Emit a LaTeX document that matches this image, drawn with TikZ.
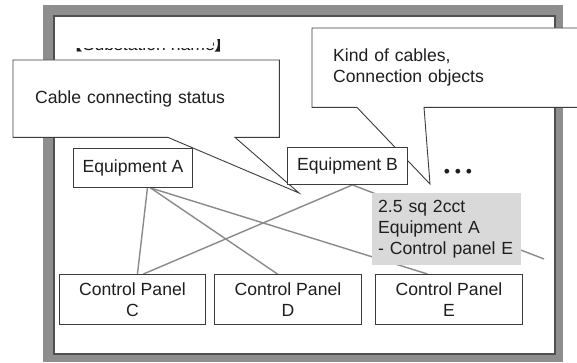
\documentclass[tikz,border=0pt]{standalone}
\usepackage{fontspec}
\setmainfont{Liberation Sans}
\newfontfamily\cjkfont{Noto Sans CJK JP}
\usetikzlibrary{positioning,calc,backgrounds}
\definecolor{cFrame}{HTML}{8E8E8E}
\definecolor{cFrameDk}{HTML}{505050}
\definecolor{cInk}{HTML}{1E1E1E}
\definecolor{cEdge}{HTML}{3C3C3C}
\definecolor{cWire}{HTML}{8A8A8A}
\definecolor{cNote}{HTML}{D9D9D9}
\tikzset{
  base/.style={font=\fontsize{17.6}{21}\selectfont,text=cInk},
  ebox/.style={base,draw=cEdge,fill=white,line width=0.9pt,align=center,inner sep=0pt,anchor=north west},
  note/.style={base,fill=cNote,align=left,inner xsep=6pt,inner ysep=0pt,anchor=north west,minimum width=149pt,minimum height=72pt,text width=137pt},
  ctext/.style={base,anchor=north west,align=left,inner ysep=0pt},
  callout/.style={draw=cEdge,fill=white,line width=0.9pt,line join=miter},
  wire/.style={draw=cWire,line width=1.4pt},
}

\begin{document}
\begin{tikzpicture}[x=1pt,y=-1pt]
  \clip (0,0) rectangle (577,363);
  % frame
  \begin{scope}[on background layer]
    \fill[cFrame] (43,5) rectangle (563,362);
    \filldraw[fill=white,draw=cFrameDk,line width=1.5pt] (54,16) rectangle (555,354);
  \end{scope}
  % title, mostly hidden
  \begin{scope}
    \clip (60,47.8) -- (213,47.8) -- (213,39) -- (240,39) -- (240,58) -- (60,58) -- cycle;
    \node[base,anchor=base west,inner sep=0pt] (title) at (65,50.8) {{\cjkfont 【}Substation name{\cjkfont\bfseries 】}};
  \end{scope}
  % callouts
  \node[ctext,inner xsep=22pt,text width=222pt,minimum height=77pt] (cab) at (13,60) {Cable connecting status};
  \node[ctext,inner xsep=21pt,text width=258pt,minimum height=79pt] (kind) at (312,28) {Kind of cables,\\Connection objects};
  \coordinate (tipCab) at (299,193);
  \coordinate (tipKind) at (430,184);
  % equipment and panels
  \node[ebox,minimum width=119pt,minimum height=39pt] (eqA) at (73,148) {Equipment A};
  \node[ebox,minimum width=120pt,minimum height=37pt] (eqB) at (287,147) {Equipment B};
  \node[base] (more) at (458,173) {• • •};
  \node[ebox,minimum width=146pt,minimum height=50pt] (cpC) at (59,274) {Control Panel\\C};
  \node[ebox,minimum width=147pt,minimum height=50pt] (cpD) at (214,274) {Control Panel\\D};
  \node[ebox,minimum width=147pt,minimum height=50pt] (cpE) at (375,274) {Control Panel\\E};
  \coordinate (wireEnd) at (544,259);
  \begin{scope}[on background layer]
    \path[callout] (cab.north west) -- (cab.north east) -- (cab.south east)
      -- ([xshift=222pt]cab.south west) -- (tipCab) -- ([xshift=155pt]cab.south west)
      -- (cab.south west) -- cycle;
    \path[callout] (kind.north west) -- (kind.north east) -- (kind.south east)
      -- ([xshift=112pt]kind.south west) -- (tipKind) -- ([xshift=45pt]kind.south west)
      -- (kind.south west) -- cycle;
    \draw[wire] ([xshift=14.5pt]eqA.south) -- ([xshift=5pt]cpC.north);
    \draw[wire] ([xshift=17.5pt]eqA.south) -- ([xshift=-10.5pt]cpD.north);
    \draw[wire] ([xshift=17.5pt]eqA.south) -- ([xshift=-21.5pt]cpE.north);
    \draw[wire] ([xshift=5pt]eqB.south) -- ([xshift=11pt]cpC.north);
    \draw[wire] ([xshift=5pt]eqB.south) -- (wireEnd);
  \end{scope}
  % cable note
  \node[note] (cable) at (372,193) {2.5 sq 2cct\\Equipment A\\- Control panel E};
\end{tikzpicture}
\end{document}
